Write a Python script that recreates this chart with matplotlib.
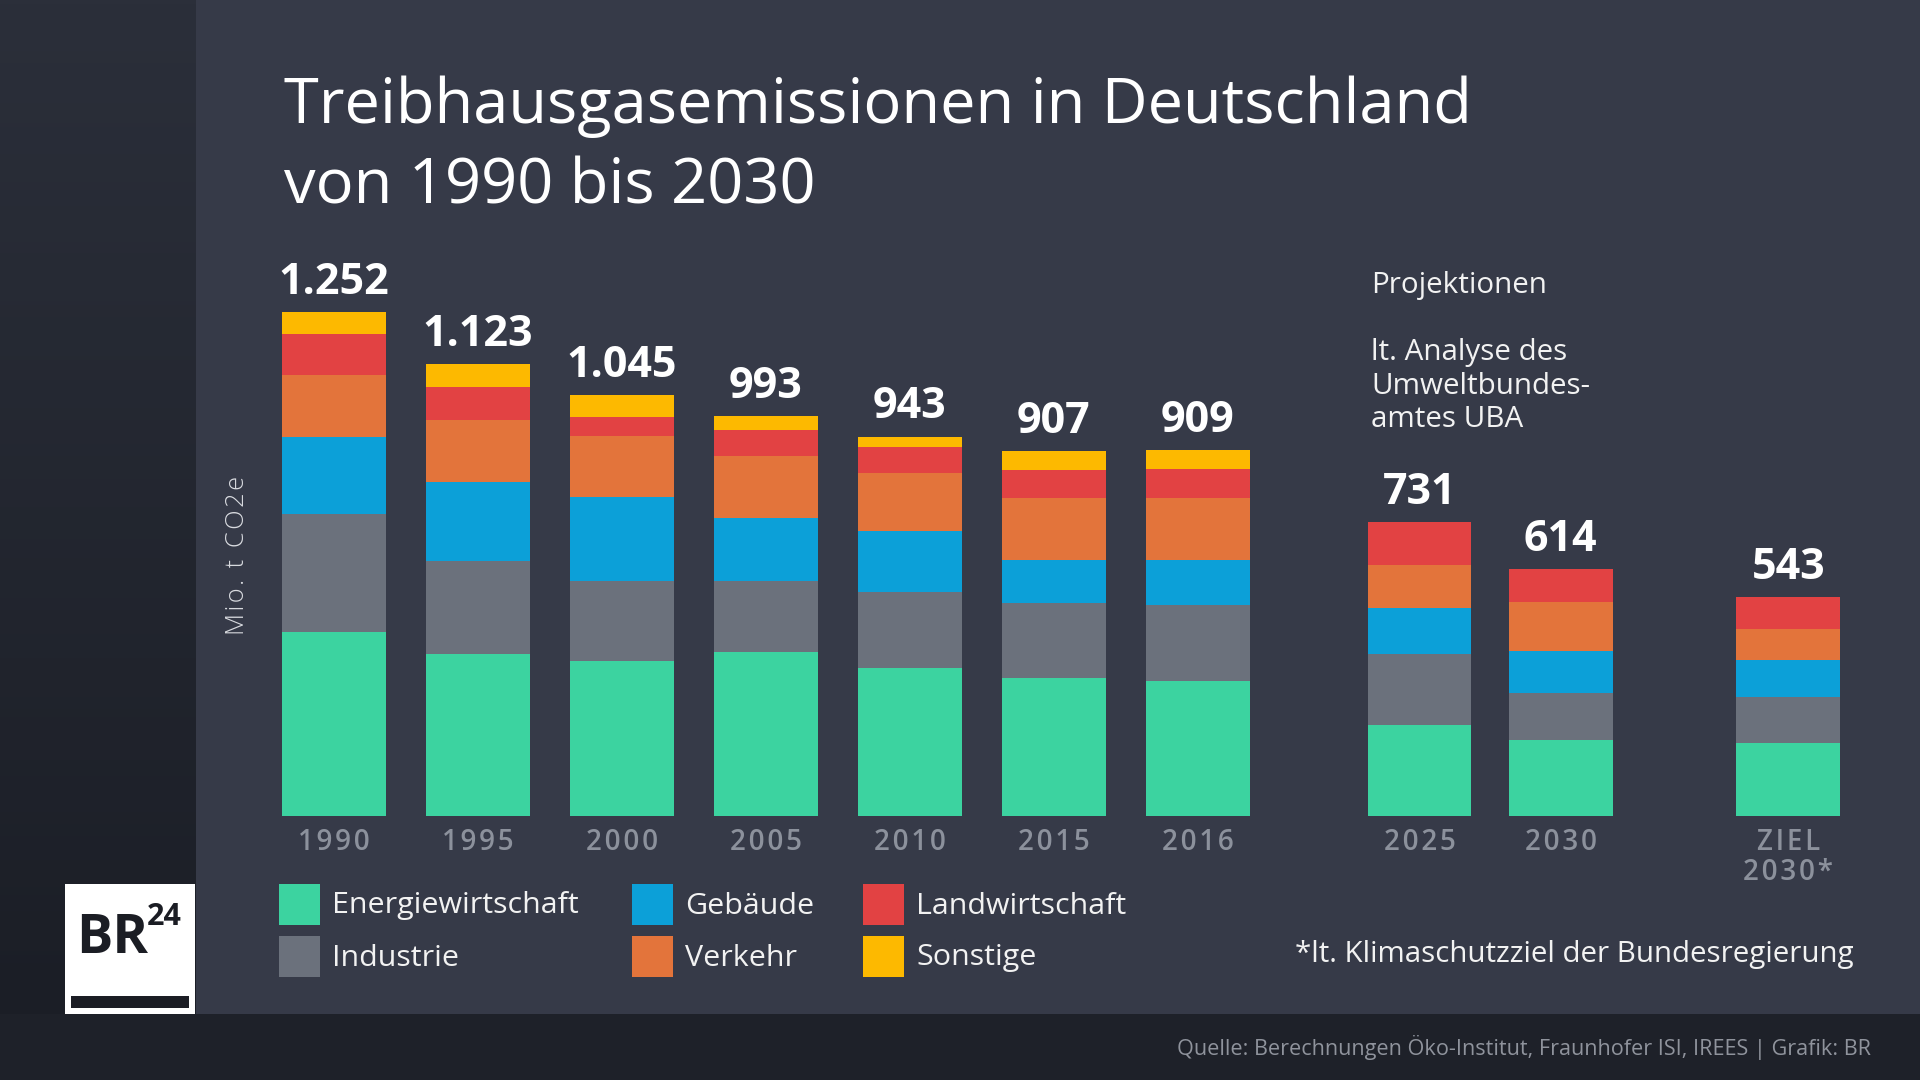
import matplotlib
matplotlib.use("Agg")
import matplotlib.pyplot as plt
from matplotlib.patches import Rectangle
from matplotlib.colors import LinearSegmentedColormap
import numpy as np

# ---------------- data ----------------
categories = ["1990", "1995", "2000", "2005", "2010", "2015", "2016", "2025", "2030", "ZIEL\n2030*"]
totals = [1252, 1123, 1045, 993, 943, 907, 909, 731, 614, 543]
series_names = ["Energiewirtschaft", "Industrie", "Gebäude", "Verkehr", "Landwirtschaft", "Sonstige"]
energiewirtschaft = [457, 403, 385, 407, 368, 344, 336, 225, 190, 181]
industrie = [293, 231, 198, 176, 189, 185, 188, 177, 115, 115]
gebaeude = [191, 196, 210, 158, 151, 106, 113, 116, 105, 91]
verkehr = [154, 154, 151, 154, 144, 154, 153, 105, 122, 78]
landwirtschaft = [102, 82, 47, 65, 65, 72, 73, 108, 82, 78]
sonstige = [55, 57, 54, 33, 26, 46, 46, 0, 0, 0]
series_values = [energiewirtschaft, industrie, gebaeude, verkehr, landwirtschaft, sonstige]

# ---------------- style / layout ----------------
colors = ["#3cd3a0", "#6b717c", "#0ca0d8", "#e3743b", "#e24243", "#fdb900"]
slots = [0, 1, 2, 3, 4, 5, 6, 7.54, 8.52, 10.1]   # horizontal slot of each bar
bar_w = 0.72

plt.rcParams["font.family"] = ["Open Sans", "DejaVu Sans"]

W, H = 1920, 1080
fig = plt.figure(figsize=(19.2, 10.8), dpi=100)
fig.patch.set_facecolor("#1f222a")


def fx(px):
    return px / W


def fy(py):
    return 1 - py / H


renderer = fig.canvas.get_renderer()


def fit_width(t, target):
    w = t.get_window_extent(renderer).width
    t.set_fontsize(t.get_fontsize() * target / w)
    return t.get_fontsize()


def fit_height(t, target):
    h = t.get_window_extent(renderer).height
    t.set_fontsize(t.get_fontsize() * target / h)
    return t.get_fontsize()


def tracked(s, sep="\u200a"):
    return "\n".join(sep.join(line) for line in s.split("\n"))


# left strip gradient
bg = fig.add_axes([0, fy(1014), fx(196), 1014 / H], zorder=-10)
grad = np.linspace(0, 1, 256)[:, None]
bg.imshow(grad, aspect="auto", cmap=LinearSegmentedColormap.from_list("g", ["#2b2f3a", "#1b1e26"]),
          extent=[0, 1, 0, 1])
bg.axis("off")

# main panel
fig.add_artist(Rectangle((fx(196), fy(1014)), 1 - fx(196), 1014 / H, transform=fig.transFigure,
                         facecolor="#363a48", edgecolor="none", zorder=-5))
# footer
fig.add_artist(Rectangle((0, 0), 1, 66 / H, transform=fig.transFigure,
                         facecolor="#1e2129", edgecolor="none", zorder=-5))

# logo
fig.add_artist(Rectangle((fx(65), fy(1014)), fx(130), 130 / H, transform=fig.transFigure,
                         facecolor="white", edgecolor="none", zorder=-4))
fig.add_artist(Rectangle((fx(71), fy(1008)), fx(118), 12 / H, transform=fig.transFigure,
                         facecolor="#1b1d24", edgecolor="none", zorder=-3))
tbr = fig.text(fx(76), fy(953), "BR", color="#1b1d24", fontsize=40, fontweight="bold",
               va="baseline", ha="left")
fit_width(tbr, 72)
fig.text(fx(147), fy(925), "24", color="#1b1d24", fontsize=22, fontweight="bold",
         va="baseline", ha="left")

# ---------------- chart ----------------
ax = fig.add_axes([fx(261.8), (H - 816) / H, 1620 / W, 563.4 / H])
ax.set_facecolor("none")
bottom = np.zeros(len(categories))
for name, vals, col in zip(series_names, series_values, colors):
    ax.bar(slots, vals, width=bar_w, bottom=bottom, color=col, linewidth=0, label=name)
    bottom += np.array(vals)

ax.set_xlim(-0.5, 10.75)
ax.set_ylim(0, 1400)
for s in ax.spines.values():
    s.set_visible(False)
ax.set_yticks([])
ax.set_xticks(slots)
ax.set_xticklabels([tracked(c) for c in categories], color="#8c919c", fontsize=20,
                   fontweight="semibold", linespacing=1.0)
ax.tick_params(axis="x", length=0, pad=9)

for x, tot in zip(slots, totals):
    lab = f"{tot:,}".replace(",", ".")
    ax.annotate(lab, (x, tot), xytext=(0, 13), textcoords="offset points",
                ha="center", va="baseline", color="white", fontsize=31, fontweight="bold")

# ---------------- texts ----------------
t1 = fig.text(fx(284), fy(123), "Treibhausgasemissionen in Deutschland", color="white",
              fontsize=50, va="baseline", ha="left")
fs = fit_width(t1, 1189)
fig.text(fx(284), fy(203), "von 1990 bis 2030", color="white", fontsize=fs,
         va="baseline", ha="left")

yl = fig.text(fx(237), fy(555), tracked("Mio. t CO2e"), color="#d9dbe0", fontsize=19,
              fontweight="light", rotation=90, ha="center", va="center")
fit_height(yl, 159)

tp = fig.text(fx(1371), fy(293), "Projektionen", color="#f2f2f2", fontsize=19,
              va="baseline", ha="left")
tu = fig.text(fx(1371), fy(394), "Umweltbundes-", color="#f2f2f2", fontsize=19,
              va="baseline", ha="left")
fsp = fit_width(tu, 220)
tp.set_fontsize(fsp)
fig.text(fx(1371), fy(360), "lt. Analyse des", color="#f2f2f2", fontsize=fsp,
         va="baseline", ha="left")
fig.text(fx(1371), fy(427), "amtes UBA", color="#f2f2f2", fontsize=fsp,
         va="baseline", ha="left")

# legend (column-major like reference)
sq = 41
col_x = [279, 632, 863]
row_y = [884, 936]
leg_texts = []
for i, (name, col) in enumerate(zip(series_names, colors)):
    cx = col_x[i // 2]
    ry = row_y[i % 2]
    fig.add_artist(Rectangle((fx(cx), fy(ry + sq)), fx(sq), sq / H, transform=fig.transFigure,
                             facecolor=col, edgecolor="none"))
    lt = fig.text(fx(cx + sq + 12), fy(ry + 29.5), name, color="#f2f2f2", fontsize=20,
                  va="baseline", ha="left")
    leg_texts.append(lt)
fsl = fit_width(leg_texts[0], 246)
for lt in leg_texts:
    lt.set_fontsize(fsl)

fn = fig.text(fx(1854), fy(962), "*lt. Klimaschutzziel der Bundesregierung", color="#f2f2f2",
              fontsize=20, va="baseline", ha="right")
fit_width(fn, 559)

src = fig.text(fx(1871), fy(1055), "Quelle: Berechnungen Öko-Institut, Fraunhofer ISI, IREES | Grafik: BR",
               color="#8f939c", fontsize=15, va="baseline", ha="right")
fit_width(src, 694)

fig.savefig("out.png", dpi=100, facecolor=fig.get_facecolor())
